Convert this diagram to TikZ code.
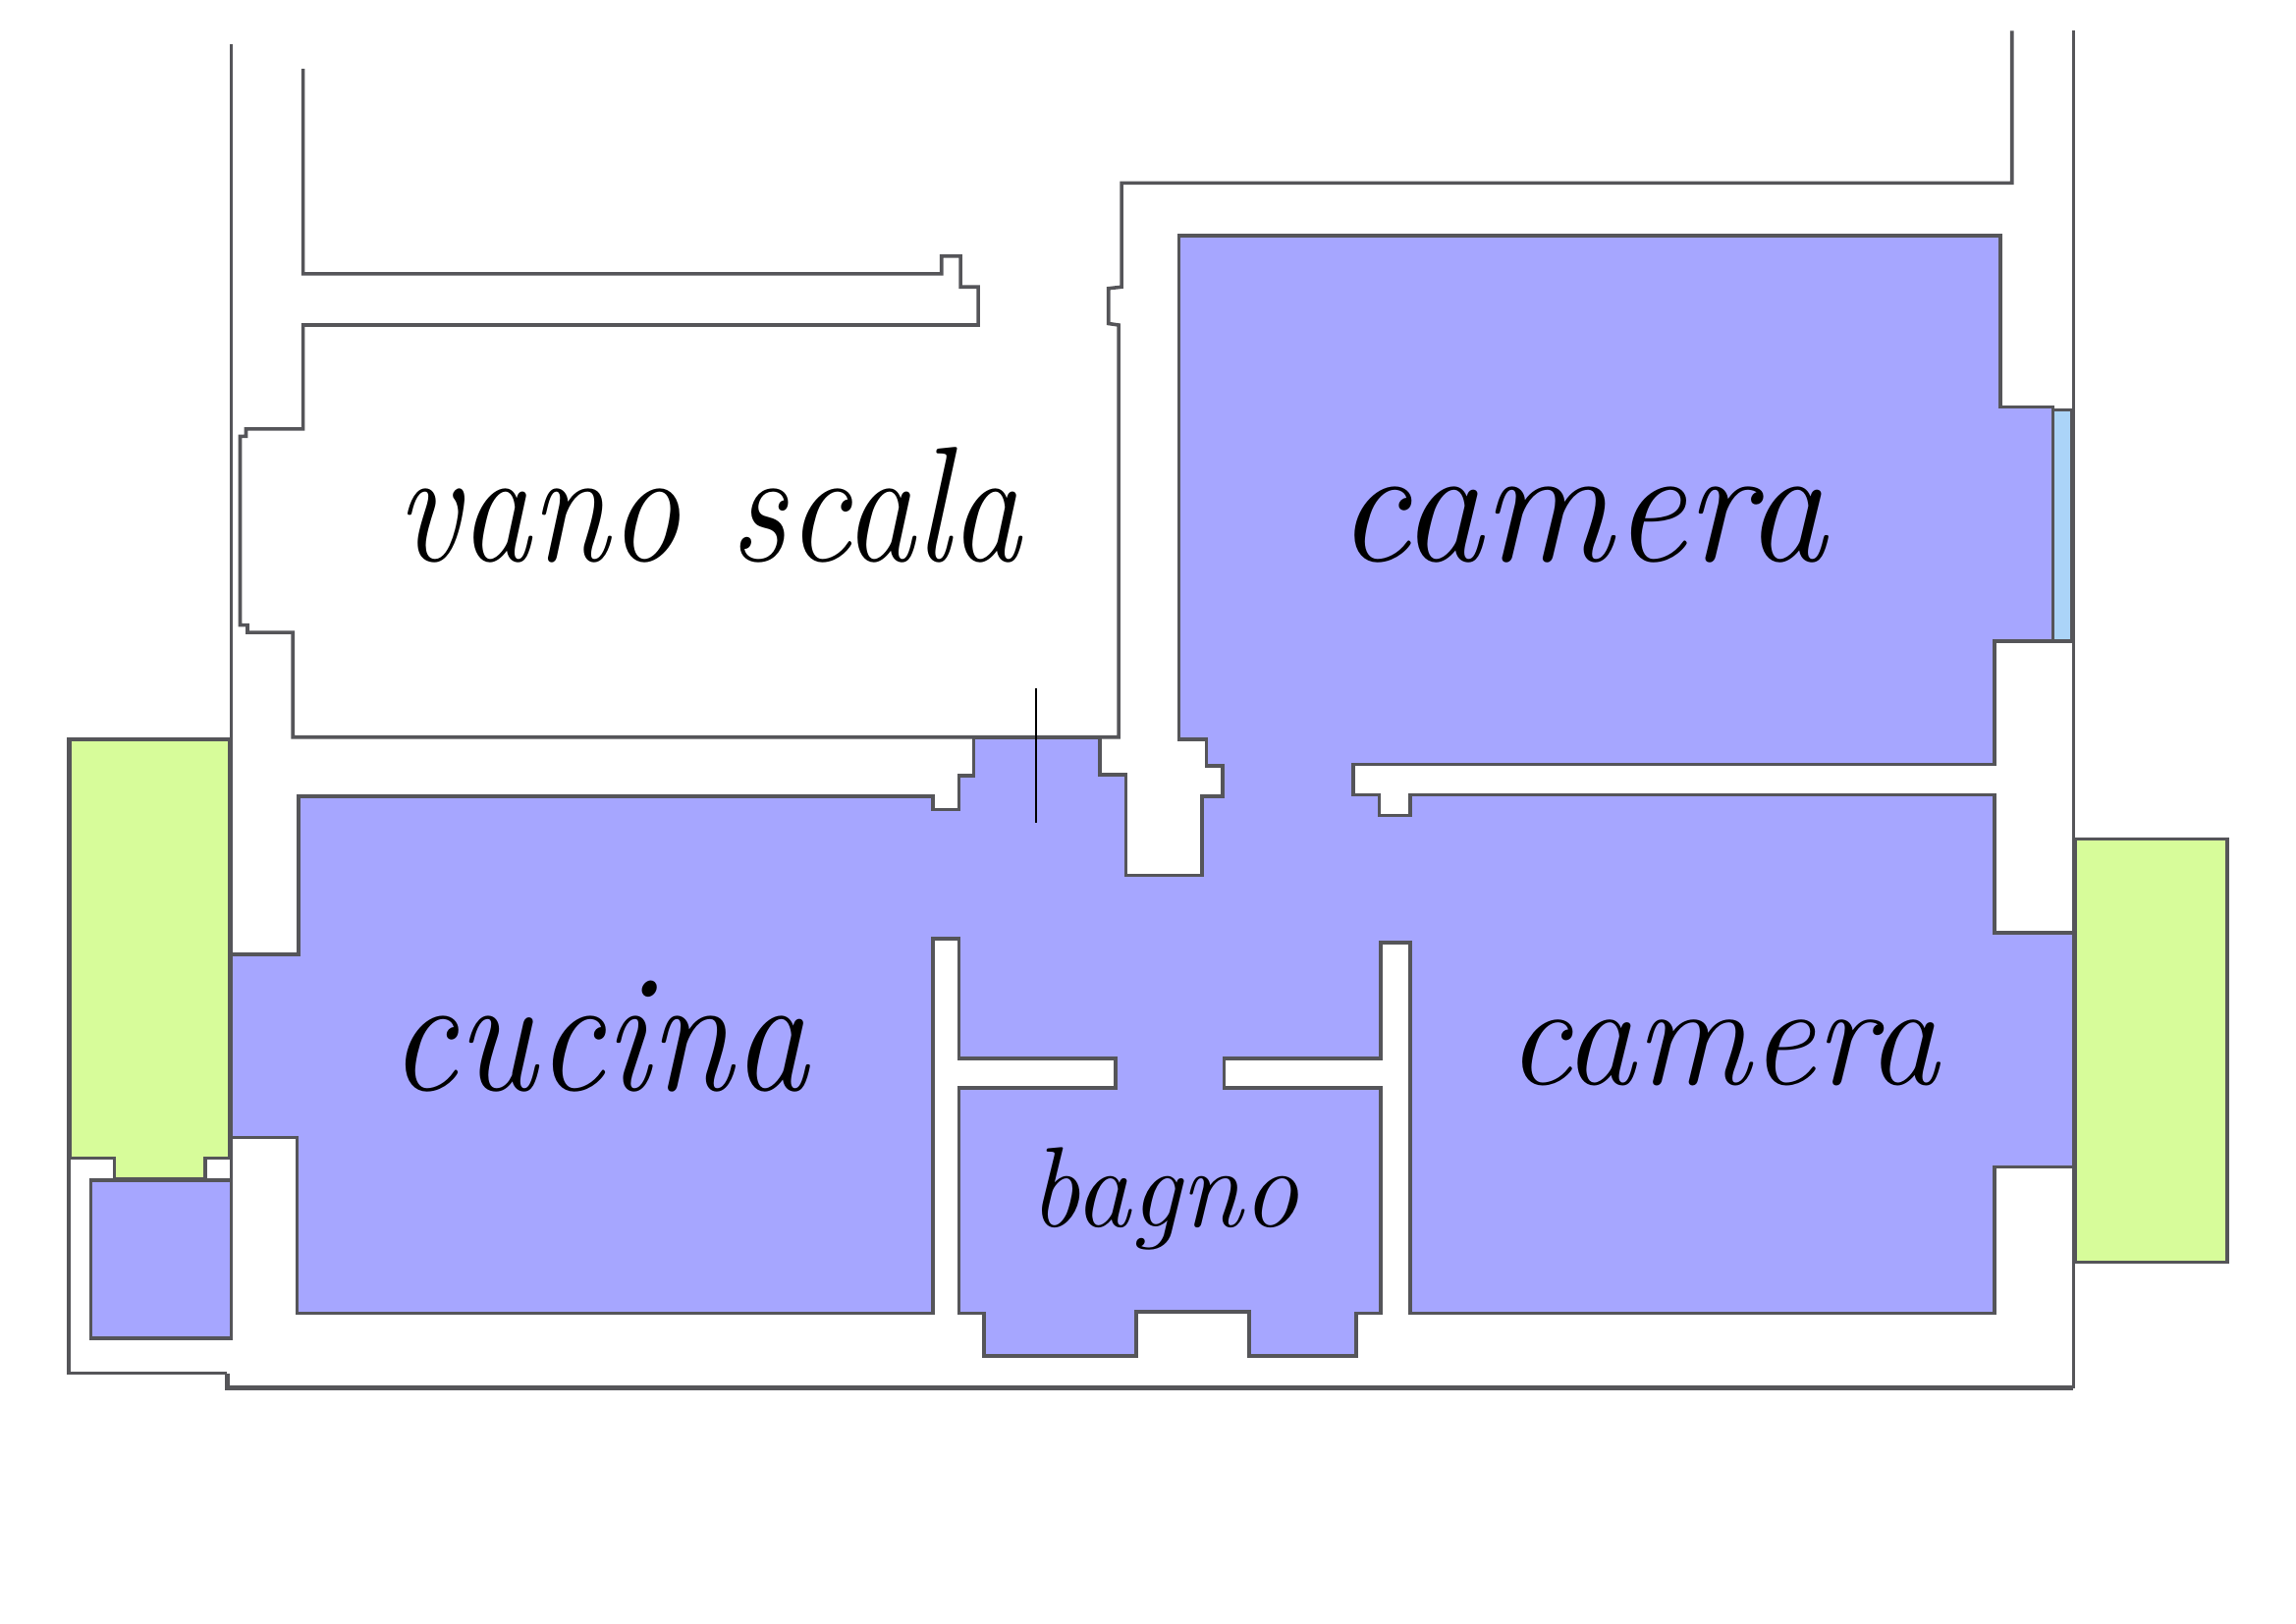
\documentclass[tikz,border=0pt]{standalone}
\definecolor{room}{HTML}{A6A6FF}
\definecolor{terr}{HTML}{D7FC9A}
\definecolor{glass}{HTML}{ABD4F8}
\definecolor{wall}{HTML}{555559}
\tikzset{
  wallline/.style={draw=wall,line width=2.4pt,line join=miter},
  heavyline/.style={draw=wall,line width=3.4pt,line join=miter},
  label/.style={inner sep=0pt,anchor=base,text=black,font=\fontsize{100}{100}\selectfont\itshape},
}
\begin{document}
\begin{tikzpicture}[x=1pt,y=-1pt]
\useasboundingbox (0,0) rectangle (1568,1108.6);
% main apartment
\path[wallline,fill=room] (158,652) -- (204,652) -- (204,544) -- (637,544) -- (637,553) -- (655,553) -- (655,530) -- (665,530) -- (665,504) -- (751,504) -- (751,529) -- (769,529) -- (769,598) -- (821,598) -- (821,544) -- (835,544) -- (835,523) -- (824,523) -- (824,505) -- (805,505) -- (805,161) -- (1366,161) -- (1366,278) -- (1402,278) -- (1402,438) -- (1362,438) -- (1362,522) -- (924,522) -- (924,543) -- (942,543) -- (942,557) -- (963,557) -- (963,543) -- (1362,543) -- (1362,637) -- (1416,637) -- (1416,797) -- (1362,797) -- (1362,897) -- (963,897) -- (963,644) -- (943,644) -- (943,723) -- (836,723) -- (836,743) -- (943,743) -- (943,897) -- (926,897) -- (926,926) -- (853,926) -- (853,896) -- (776,896) -- (776,926) -- (672,926) -- (672,897) -- (655,897) -- (655,743) -- (762,743) -- (762,723) -- (655,723) -- (655,641) -- (637,641) -- (637,897) -- (203,897) -- (203,777) -- (158,777) -- cycle;
% terraces
\path[wallline,fill=terr] (47,505) -- (157,505) -- (157,791) -- (140,791) -- (140,805) -- (78,805) -- (78,791) -- (47,791) -- cycle;
\path[heavyline] (47,505) -- (47,791);
\path[wallline,fill=terr] (1417,573) rectangle (1521,862);
\path[wallline,fill=room] (62,806) rectangle (158,914);
\path[wallline,fill=glass] (1402,280) rectangle (1415,438);
% walls
\path[wallline] (158,30) -- (158,652);
\path[wallline] (158,777) -- (158,806);
\path[wallline] (47,791) -- (47,938) -- (155,938);
\path[heavyline] (155,938) -- (155,948) -- (1416,948);
\path[wallline] (1416,948) -- (1416,21);
\path[wallline] (1374,21) -- (1374,125) -- (766,125) -- (766,196) -- (757,197) -- (757,221) -- (764,222) -- (764,503.5) -- (200,503.5) -- (200,432) -- (169,432) -- (169,427) -- (164,427) -- (164,298) -- (168,298) -- (168,293) -- (207,293) -- (207,222) -- (668,222) -- (668,196) -- (656,196) -- (656,175) -- (643,175) -- (643,187) -- (207,187) -- (207,47);
\coordinate (doortop) at (707.5,470);
\coordinate (doorbot) at (707.5,562);
\draw[black,line width=1.2pt] (doortop) -- (doorbot);
% labels
\node[label] (vano) at (484,383) {\scalebox{.97}[1.12]{vano scala}};
\node[label] (cam1) at (1080,383) {\scalebox{1.11}[1.15]{camera}};
\node[label] (cucina) at (409,745) {\scalebox{1.03}[1.15]{cucina}};
\node[label] (cam2) at (1176.5,741) {\scalebox{.98}[1]{camera}};
\node[label] (bagno) at (795,838) {\scalebox{.765}[.78]{bagno}};
\end{tikzpicture}
\end{document}
